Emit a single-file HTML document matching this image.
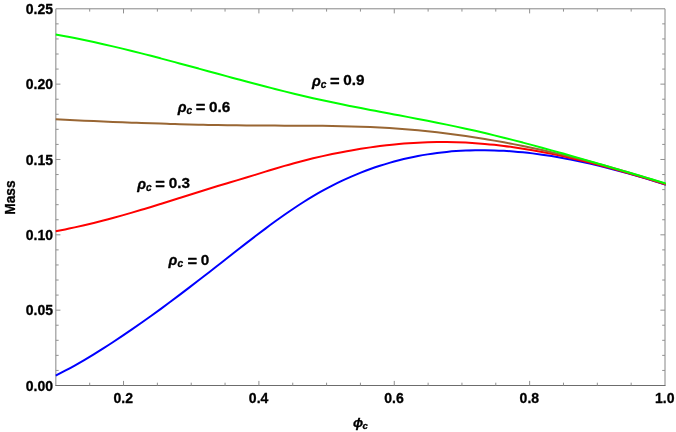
<!DOCTYPE html>
<html><head><meta charset="utf-8"><title>Mass vs phi_c</title>
<style>html,body{margin:0;padding:0;background:#fff;}svg{display:block;will-change:transform;}text{font-family:"Liberation Sans",sans-serif;font-weight:bold;fill:#000;stroke:#000;stroke-width:0.3px;stroke-linejoin:round;}.i{font-style:italic;}</style>
</head><body>
<svg width="676" height="432" viewBox="0 0 676 432">
<rect x="0" y="0" width="676" height="432" fill="#fff"/>
<defs><clipPath id="cp"><rect x="55.35" y="8.80" width="610.45" height="376.70"/></clipPath></defs>
<path d="M55.85 385.50 L55.85 8.80 L665.00 8.80 L665.00 385.50" stroke="#868686" stroke-width="1" fill="none"/>
<path d="M55.35 385.50 L665.50 385.50" stroke="#6c6c6c" stroke-width="1" fill="none"/>
<path d="M89.69 385.50 L89.69 382.70 M89.69 8.80 L89.69 11.60 M123.53 385.50 L123.53 380.90 M123.53 8.80 L123.53 13.40 M157.37 385.50 L157.37 382.70 M157.37 8.80 L157.37 11.60 M191.22 385.50 L191.22 382.70 M191.22 8.80 L191.22 11.60 M225.06 385.50 L225.06 382.70 M225.06 8.80 L225.06 11.60 M258.90 385.50 L258.90 380.90 M258.90 8.80 L258.90 13.40 M292.74 385.50 L292.74 382.70 M292.74 8.80 L292.74 11.60 M326.58 385.50 L326.58 382.70 M326.58 8.80 L326.58 11.60 M360.43 385.50 L360.43 382.70 M360.43 8.80 L360.43 11.60 M394.27 385.50 L394.27 380.90 M394.27 8.80 L394.27 13.40 M428.11 385.50 L428.11 382.70 M428.11 8.80 L428.11 11.60 M461.95 385.50 L461.95 382.70 M461.95 8.80 L461.95 11.60 M495.79 385.50 L495.79 382.70 M495.79 8.80 L495.79 11.60 M529.63 385.50 L529.63 380.90 M529.63 8.80 L529.63 13.40 M563.47 385.50 L563.47 382.70 M563.47 8.80 L563.47 11.60 M597.32 385.50 L597.32 382.70 M597.32 8.80 L597.32 11.60 M631.16 385.50 L631.16 382.70 M631.16 8.80 L631.16 11.60 M55.85 370.43 L58.65 370.43 M665.00 370.43 L662.20 370.43 M55.85 355.36 L58.65 355.36 M665.00 355.36 L662.20 355.36 M55.85 340.30 L58.65 340.30 M665.00 340.30 L662.20 340.30 M55.85 325.23 L58.65 325.23 M665.00 325.23 L662.20 325.23 M55.85 310.16 L60.45 310.16 M665.00 310.16 L660.40 310.16 M55.85 295.09 L58.65 295.09 M665.00 295.09 L662.20 295.09 M55.85 280.02 L58.65 280.02 M665.00 280.02 L662.20 280.02 M55.85 264.96 L58.65 264.96 M665.00 264.96 L662.20 264.96 M55.85 249.89 L58.65 249.89 M665.00 249.89 L662.20 249.89 M55.85 234.82 L60.45 234.82 M665.00 234.82 L660.40 234.82 M55.85 219.75 L58.65 219.75 M665.00 219.75 L662.20 219.75 M55.85 204.68 L58.65 204.68 M665.00 204.68 L662.20 204.68 M55.85 189.62 L58.65 189.62 M665.00 189.62 L662.20 189.62 M55.85 174.55 L58.65 174.55 M665.00 174.55 L662.20 174.55 M55.85 159.48 L60.45 159.48 M665.00 159.48 L660.40 159.48 M55.85 144.41 L58.65 144.41 M665.00 144.41 L662.20 144.41 M55.85 129.34 L58.65 129.34 M665.00 129.34 L662.20 129.34 M55.85 114.28 L58.65 114.28 M665.00 114.28 L662.20 114.28 M55.85 99.21 L58.65 99.21 M665.00 99.21 L662.20 99.21 M55.85 84.14 L60.45 84.14 M665.00 84.14 L660.40 84.14 M55.85 69.07 L58.65 69.07 M665.00 69.07 L662.20 69.07 M55.85 54.00 L58.65 54.00 M665.00 54.00 L662.20 54.00 M55.85 38.94 L58.65 38.94 M665.00 38.94 L662.20 38.94 M55.85 23.87 L58.65 23.87 M665.00 23.87 L662.20 23.87" stroke="#909090" stroke-width="1" fill="none"/>
<g fill="none" stroke-width="2" stroke-linejoin="round" clip-path="url(#cp)">
<path d="M55.60 375.71 C58.78 374.10 61.96 372.44 65.14 370.74 C68.32 369.04 71.50 367.29 74.67 365.51 C77.85 363.72 81.03 361.89 84.21 360.03 C87.39 358.16 90.57 356.26 93.75 354.32 C96.93 352.38 100.11 350.40 103.29 348.39 C106.47 346.38 109.65 344.34 112.82 342.26 C116.00 340.19 119.18 338.08 122.36 335.95 C125.54 333.81 128.72 331.64 131.90 329.45 C135.08 327.26 138.26 325.04 141.44 322.80 C144.62 320.56 147.80 318.29 150.97 316.00 C154.15 313.71 157.33 311.40 160.51 309.07 C163.69 306.74 166.87 304.39 170.05 302.02 C173.23 299.66 176.41 297.27 179.59 294.87 C182.77 292.47 185.95 290.06 189.12 287.63 C192.30 285.20 195.48 282.76 198.66 280.31 C201.84 277.86 205.02 275.40 208.20 272.94 C211.38 270.47 214.56 267.99 217.74 265.51 C220.92 263.03 224.10 260.54 227.27 258.05 C230.45 255.56 233.63 253.07 236.81 250.58 C239.99 248.10 243.17 245.62 246.35 243.15 C249.53 240.69 252.71 238.24 255.89 235.81 C259.07 233.38 262.25 230.97 265.43 228.59 C268.60 226.21 271.78 223.87 274.96 221.56 C278.14 219.25 281.32 216.97 284.50 214.74 C287.68 212.52 290.86 210.34 294.04 208.21 C297.22 206.08 300.40 204.00 303.57 201.99 C306.75 199.98 309.93 198.03 313.11 196.14 C316.29 194.26 319.47 192.44 322.65 190.69 C325.83 188.93 329.01 187.24 332.19 185.62 C335.37 183.99 338.55 182.43 341.73 180.93 C344.90 179.43 348.08 177.99 351.26 176.62 C354.44 175.24 357.62 173.92 360.80 172.66 C363.98 171.40 367.16 170.20 370.34 169.06 C373.52 167.92 376.70 166.83 379.88 165.80 C383.05 164.77 386.23 163.80 389.41 162.88 C392.59 161.96 395.77 161.10 398.95 160.29 C402.13 159.48 405.31 158.72 408.49 158.01 C411.67 157.31 414.85 156.65 418.03 156.05 C421.20 155.44 424.38 154.89 427.56 154.38 C430.74 153.87 433.92 153.42 437.10 153.01 C440.28 152.59 443.46 152.23 446.64 151.91 C449.82 151.60 453.00 151.32 456.18 151.10 C459.35 150.87 462.53 150.69 465.71 150.55 C468.89 150.40 472.07 150.31 475.25 150.25 C478.43 150.19 481.61 150.18 484.79 150.20 C487.97 150.23 491.15 150.29 494.32 150.40 C497.50 150.50 500.68 150.64 503.86 150.82 C507.04 151.00 510.22 151.21 513.40 151.46 C516.58 151.71 519.76 152.00 522.94 152.32 C526.12 152.64 529.30 152.99 532.48 153.38 C535.65 153.77 538.83 154.19 542.01 154.64 C545.19 155.09 548.37 155.57 551.55 156.08 C554.73 156.59 557.91 157.13 561.09 157.70 C564.27 158.27 567.45 158.86 570.62 159.49 C573.80 160.11 576.98 160.76 580.16 161.44 C583.34 162.11 586.52 162.81 589.70 163.54 C592.88 164.26 596.06 165.01 599.24 165.78 C602.42 166.55 605.60 167.35 608.77 168.16 C611.95 168.97 615.13 169.81 618.31 170.66 C621.49 171.52 624.67 172.39 627.85 173.28 C631.03 174.17 634.21 175.08 637.39 176.01 C640.57 176.93 643.75 177.88 646.92 178.83 C650.10 179.79 653.28 180.76 656.46 181.75 C659.64 182.73 662.82 183.73 666.00 184.74" stroke="#0000ff"/>
<path d="M55.60 231.25 C58.78 230.66 61.96 230.04 65.14 229.40 C68.32 228.75 71.50 228.08 74.67 227.39 C77.85 226.69 81.03 225.97 84.21 225.23 C87.39 224.49 90.57 223.72 93.75 222.93 C96.93 222.15 100.11 221.34 103.29 220.51 C106.47 219.69 109.65 218.84 112.82 217.98 C116.00 217.12 119.18 216.24 122.36 215.34 C125.54 214.45 128.72 213.54 131.90 212.62 C135.08 211.69 138.26 210.76 141.44 209.81 C144.62 208.86 147.80 207.90 150.97 206.93 C154.15 205.96 157.33 204.98 160.51 204.00 C163.69 203.01 166.87 202.02 170.05 201.02 C173.23 200.02 176.41 199.01 179.59 198.00 C182.77 196.99 185.95 195.98 189.12 194.97 C192.30 193.96 195.48 192.95 198.66 191.95 C201.84 190.95 205.02 189.95 208.20 188.97 C211.38 187.98 214.56 187.01 217.74 186.05 C220.92 185.10 224.10 184.15 227.27 183.21 C230.45 182.27 233.63 181.34 236.81 180.39 C239.99 179.45 243.17 178.50 246.35 177.53 C249.53 176.56 252.71 175.58 255.89 174.59 C259.07 173.60 262.25 172.60 265.43 171.61 C268.60 170.61 271.78 169.63 274.96 168.67 C278.14 167.70 281.32 166.76 284.50 165.85 C287.68 164.93 290.86 164.05 294.04 163.19 C297.22 162.33 300.40 161.50 303.57 160.69 C306.75 159.88 309.93 159.10 313.11 158.34 C316.29 157.58 319.47 156.84 322.65 156.13 C325.83 155.42 329.01 154.74 332.19 154.07 C335.37 153.41 338.55 152.78 341.73 152.17 C344.90 151.56 348.08 150.97 351.26 150.41 C354.44 149.85 357.62 149.32 360.80 148.81 C363.98 148.31 367.16 147.83 370.34 147.38 C373.52 146.92 376.70 146.50 379.88 146.10 C383.05 145.71 386.23 145.34 389.41 145.00 C392.59 144.66 395.77 144.34 398.95 144.06 C402.13 143.78 405.31 143.52 408.49 143.30 C411.67 143.08 414.85 142.88 418.03 142.72 C421.20 142.55 424.38 142.42 427.56 142.32 C430.74 142.22 433.92 142.14 437.10 142.10 C440.28 142.06 443.46 142.05 446.64 142.08 C449.82 142.10 453.00 142.15 456.18 142.24 C459.35 142.33 462.53 142.45 465.71 142.60 C468.89 142.76 472.07 142.95 475.25 143.16 C478.43 143.38 481.61 143.63 484.79 143.91 C487.97 144.19 491.15 144.50 494.32 144.84 C497.50 145.18 500.68 145.55 503.86 145.95 C507.04 146.34 510.22 146.77 513.40 147.22 C516.58 147.67 519.76 148.15 522.94 148.65 C526.12 149.16 529.30 149.69 532.48 150.24 C535.65 150.79 538.83 151.37 542.01 151.97 C545.19 152.57 548.37 153.20 551.55 153.85 C554.73 154.49 557.91 155.16 561.09 155.85 C564.27 156.54 567.45 157.25 570.62 157.98 C573.80 158.71 576.98 159.46 580.16 160.23 C583.34 161.00 586.52 161.78 589.70 162.59 C592.88 163.39 596.06 164.21 599.24 165.05 C602.42 165.88 605.60 166.74 608.77 167.60 C611.95 168.47 615.13 169.35 618.31 170.25 C621.49 171.15 624.67 172.06 627.85 172.98 C631.03 173.90 634.21 174.84 637.39 175.78 C640.57 176.73 643.75 177.69 646.92 178.65 C650.10 179.62 653.28 180.60 656.46 181.58 C659.64 182.57 662.82 183.57 666.00 184.57" stroke="#ff0000"/>
<path d="M55.60 119.37 C58.78 119.52 61.96 119.66 65.14 119.81 C68.32 119.96 71.50 120.10 74.67 120.24 C77.85 120.39 81.03 120.53 84.21 120.67 C87.39 120.81 90.57 120.95 93.75 121.09 C96.93 121.22 100.11 121.36 103.29 121.49 C106.47 121.62 109.65 121.75 112.82 121.88 C116.00 122.01 119.18 122.14 122.36 122.26 C125.54 122.39 128.72 122.51 131.90 122.63 C135.08 122.75 138.26 122.86 141.44 122.98 C144.62 123.09 147.80 123.20 150.97 123.31 C154.15 123.42 157.33 123.52 160.51 123.62 C163.69 123.73 166.87 123.82 170.05 123.92 C173.23 124.01 176.41 124.11 179.59 124.20 C182.77 124.28 185.95 124.37 189.12 124.45 C192.30 124.53 195.48 124.61 198.66 124.68 C201.84 124.75 205.02 124.82 208.20 124.89 C211.38 124.95 214.56 125.01 217.74 125.07 C220.92 125.13 224.10 125.18 227.27 125.23 C230.45 125.28 233.63 125.32 236.81 125.36 C239.99 125.40 243.17 125.43 246.35 125.46 C249.53 125.49 252.71 125.51 255.89 125.53 C259.07 125.55 262.25 125.56 265.43 125.58 C268.60 125.59 271.78 125.60 274.96 125.61 C278.14 125.62 281.32 125.63 284.50 125.63 C287.68 125.64 290.86 125.65 294.04 125.66 C297.22 125.67 300.40 125.69 303.57 125.70 C306.75 125.72 309.93 125.74 313.11 125.76 C316.29 125.79 319.47 125.82 322.65 125.85 C325.83 125.89 329.01 125.93 332.19 125.98 C335.37 126.03 338.55 126.09 341.73 126.16 C344.90 126.23 348.08 126.31 351.26 126.40 C354.44 126.48 357.62 126.58 360.80 126.70 C363.98 126.81 367.16 126.93 370.34 127.07 C373.52 127.21 376.70 127.37 379.88 127.53 C383.05 127.70 386.23 127.89 389.41 128.09 C392.59 128.29 395.77 128.51 398.95 128.74 C402.13 128.98 405.31 129.23 408.49 129.50 C411.67 129.77 414.85 130.05 418.03 130.35 C421.20 130.65 424.38 130.97 427.56 131.30 C430.74 131.64 433.92 131.99 437.10 132.35 C440.28 132.72 443.46 133.10 446.64 133.50 C449.82 133.90 453.00 134.31 456.18 134.74 C459.35 135.17 462.53 135.61 465.71 136.07 C468.89 136.53 472.07 137.01 475.25 137.50 C478.43 137.99 481.61 138.50 484.79 139.02 C487.97 139.54 491.15 140.08 494.32 140.63 C497.50 141.19 500.68 141.75 503.86 142.34 C507.04 142.92 510.22 143.51 513.40 144.13 C516.58 144.74 519.76 145.37 522.94 146.01 C526.12 146.65 529.30 147.30 532.48 147.97 C535.65 148.64 538.83 149.33 542.01 150.03 C545.19 150.73 548.37 151.44 551.55 152.17 C554.73 152.89 557.91 153.63 561.09 154.39 C564.27 155.14 567.45 155.91 570.62 156.70 C573.80 157.48 576.98 158.28 580.16 159.09 C583.34 159.90 586.52 160.72 589.70 161.56 C592.88 162.39 596.06 163.24 599.24 164.11 C602.42 164.97 605.60 165.85 608.77 166.74 C611.95 167.63 615.13 168.53 618.31 169.45 C621.49 170.36 624.67 171.29 627.85 172.24 C631.03 173.18 634.21 174.13 637.39 175.10 C640.57 176.07 643.75 177.05 646.92 178.04 C650.10 179.03 653.28 180.04 656.46 181.05 C659.64 182.07 662.82 183.10 666.00 184.14" stroke="#996633"/>
<path d="M55.60 34.43 C58.78 34.99 61.96 35.58 65.14 36.18 C68.32 36.78 71.50 37.39 74.67 38.03 C77.85 38.66 81.03 39.31 84.21 39.98 C87.39 40.65 90.57 41.33 93.75 42.02 C96.93 42.72 100.11 43.43 103.29 44.15 C106.47 44.88 109.65 45.61 112.82 46.36 C116.00 47.11 119.18 47.87 122.36 48.64 C125.54 49.41 128.72 50.19 131.90 50.99 C135.08 51.78 138.26 52.58 141.44 53.39 C144.62 54.19 147.80 55.01 150.97 55.84 C154.15 56.66 157.33 57.49 160.51 58.33 C163.69 59.17 166.87 60.01 170.05 60.86 C173.23 61.71 176.41 62.56 179.59 63.41 C182.77 64.27 185.95 65.13 189.12 65.99 C192.30 66.86 195.48 67.72 198.66 68.58 C201.84 69.45 205.02 70.32 208.20 71.18 C211.38 72.05 214.56 72.92 217.74 73.78 C220.92 74.65 224.10 75.51 227.27 76.37 C230.45 77.23 233.63 78.09 236.81 78.95 C239.99 79.80 243.17 80.66 246.35 81.50 C249.53 82.35 252.71 83.19 255.89 84.03 C259.07 84.86 262.25 85.69 265.43 86.52 C268.60 87.34 271.78 88.16 274.96 88.96 C278.14 89.77 281.32 90.57 284.50 91.36 C287.68 92.15 290.86 92.93 294.04 93.70 C297.22 94.46 300.40 95.22 303.57 95.97 C306.75 96.71 309.93 97.45 313.11 98.17 C316.29 98.89 319.47 99.60 322.65 100.29 C325.83 100.98 329.01 101.66 332.19 102.33 C335.37 103.00 338.55 103.66 341.73 104.31 C344.90 104.95 348.08 105.59 351.26 106.22 C354.44 106.85 357.62 107.48 360.80 108.09 C363.98 108.71 367.16 109.32 370.34 109.93 C373.52 110.53 376.70 111.14 379.88 111.74 C383.05 112.34 386.23 112.93 389.41 113.53 C392.59 114.13 395.77 114.72 398.95 115.32 C402.13 115.92 405.31 116.52 408.49 117.12 C411.67 117.72 414.85 118.33 418.03 118.94 C421.20 119.55 424.38 120.16 427.56 120.78 C430.74 121.40 433.92 122.03 437.10 122.67 C440.28 123.31 443.46 123.95 446.64 124.61 C449.82 125.26 453.00 125.93 456.18 126.61 C459.35 127.29 462.53 127.98 465.71 128.68 C468.89 129.38 472.07 130.10 475.25 130.83 C478.43 131.56 481.61 132.30 484.79 133.06 C487.97 133.81 491.15 134.58 494.32 135.35 C497.50 136.13 500.68 136.92 503.86 137.71 C507.04 138.51 510.22 139.32 513.40 140.13 C516.58 140.95 519.76 141.78 522.94 142.61 C526.12 143.45 529.30 144.29 532.48 145.14 C535.65 146.00 538.83 146.85 542.01 147.72 C545.19 148.59 548.37 149.46 551.55 150.34 C554.73 151.22 557.91 152.11 561.09 153.00 C564.27 153.89 567.45 154.79 570.62 155.69 C573.80 156.59 576.98 157.50 580.16 158.41 C583.34 159.32 586.52 160.24 589.70 161.16 C592.88 162.07 596.06 163.00 599.24 163.92 C602.42 164.84 605.60 165.77 608.77 166.70 C611.95 167.63 615.13 168.56 618.31 169.49 C621.49 170.42 624.67 171.35 627.85 172.28 C631.03 173.22 634.21 174.15 637.39 175.08 C640.57 176.01 643.75 176.94 646.92 177.87 C650.10 178.80 653.28 179.73 656.46 180.66 C659.64 181.59 662.82 182.51 666.00 183.43" stroke="#00ff00"/>
</g>
<g font-size="14">
<text x="53.00" y="391.00" text-anchor="end">0.00</text>
<text x="53.00" y="315.00" text-anchor="end">0.05</text>
<text x="53.00" y="240.00" text-anchor="end">0.10</text>
<text x="53.00" y="165.00" text-anchor="end">0.15</text>
<text x="53.00" y="89.00" text-anchor="end">0.20</text>
<text x="53.00" y="14.00" text-anchor="end">0.25</text>
<text x="123.23" y="403.00" text-anchor="middle">0.2</text>
<text x="258.60" y="403.00" text-anchor="middle">0.4</text>
<text x="393.97" y="403.00" text-anchor="middle">0.6</text>
<text x="529.33" y="403.00" text-anchor="middle">0.8</text>
<text x="664.70" y="403.00" text-anchor="middle">1.0</text>
</g>
<text font-size="13.8" text-anchor="middle" transform="translate(15.1 197.6) rotate(-90)">Mass</text>
<text class="i" font-size="13.4" x="352.9" y="427.3">&#981;</text><text class="i" font-size="9.6" x="362.6" y="429.3">c</text>
<text class="i" font-size="14.5" x="311.90" y="85.60">&#961;</text><text class="i" font-size="10.2" x="320.70" y="87.50">c</text><text font-size="16.5" x="329.90" y="87.10" stroke-width="0.6">=</text><text font-size="15.3" x="343.30" y="85.10">0.9</text>
<text class="i" font-size="14.5" x="177.70" y="111.80">&#961;</text><text class="i" font-size="10.2" x="186.50" y="113.70">c</text><text font-size="16.5" x="195.70" y="113.30" stroke-width="0.6">=</text><text font-size="15.3" x="209.10" y="111.80">0.6</text>
<text class="i" font-size="14.5" x="137.30" y="188.80">&#961;</text><text class="i" font-size="10.2" x="146.10" y="190.70">c</text><text font-size="16.5" x="155.30" y="190.30" stroke-width="0.6">=</text><text font-size="15.3" x="168.70" y="188.30">0.3</text>
<text class="i" font-size="14.5" x="168.60" y="265.00">&#961;</text><text class="i" font-size="10.2" x="177.40" y="266.90">c</text><text font-size="16.5" x="187.40" y="266.50" stroke-width="0.6">=</text><text font-size="15.3" x="200.80" y="264.50">0</text>
</svg></body></html>
